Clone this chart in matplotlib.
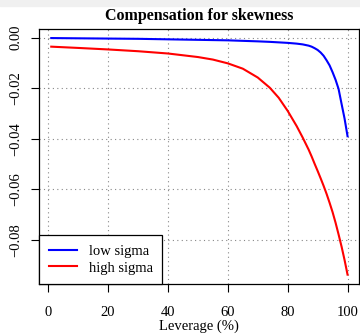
import matplotlib
matplotlib.use("Agg")
import matplotlib.pyplot as plt
from matplotlib.patches import Rectangle

# values
leverage = [1, 10, 20, 30, 40, 50, 55, 60, 65, 70, 74, 77, 80, 83, 85, 87, 88,
            89, 90, 91, 92, 93, 94, 95, 96, 97, 98, 99, 100]
low_sigma = [-0.0002, -0.0003, -0.0004, -0.0005, -0.0007, -0.0009, -0.0010,
             -0.0011, -0.0013, -0.0015, -0.0017, -0.0019, -0.0021, -0.0024,
             -0.0027, -0.0032, -0.0036, -0.0042, -0.0049, -0.0059, -0.0072,
             -0.0090, -0.0110, -0.0137, -0.0167, -0.0203, -0.0262, -0.0320,
             -0.0390]
high_sigma = [-0.0036, -0.0041, -0.0047, -0.0054, -0.0063, -0.0077, -0.0087,
              -0.0102, -0.0123, -0.0158, -0.0198, -0.0238, -0.0290, -0.0350,
              -0.0395, -0.0443, -0.0470, -0.0499, -0.0527, -0.0556, -0.0586,
              -0.0618, -0.0653, -0.0690, -0.0732, -0.0778, -0.0826, -0.0879,
              -0.0937]
x_ticks = [0, 20, 40, 60, 80, 100]
y_ticks = [0.00, -0.02, -0.04, -0.06, -0.08]
y_labels = ["0.00", "\u22120.02", "\u22120.04", "\u22120.06", "\u22120.08"]

plt.rcParams['font.family'] = ['Liberation Serif', 'DejaVu Serif']

fig = plt.figure(figsize=(3.6, 3.34), dpi=100)
# light strip at the very top of the screenshot
fig.patches.append(Rectangle((0, 1 - 6 / 334), 1, 6 / 334, transform=fig.transFigure,
                             color='#f0f0f0', zorder=0))
ax = fig.add_axes([39.4 / 360, 1 - 284 / 334, 320 / 360, 255.3 / 334])

ax.plot(leverage, low_sigma, color='blue', lw=1.5, label='low sigma')
ax.plot(leverage, high_sigma, color='red', lw=1.5, label='high sigma')

ax.set_xlim(-2.96, 103.96)
ax.set_ylim(-0.0974, 0.0035)
ax.set_xticks(x_ticks)
ax.set_yticks(y_ticks)
ax.set_yticklabels(y_labels)

ax.tick_params(axis='both', direction='out', length=5.5, width=0.8, labelsize=10.5)
ax.tick_params(axis='x', pad=10.5)
ax.tick_params(axis='y', pad=6.5, labelrotation=90)
for lab in ax.get_yticklabels():
    lab.set_va('center')

ax.grid(True, color='#888888', linestyle=(0, (1, 3)), lw=0.8)
for s in ax.spines.values():
    s.set_linewidth(0.9)

ax.set_title("Compensation for skewness", fontsize=11.5, fontweight='bold', pad=6)
ax.set_xlabel("Leverage (%)", fontsize=10.5, labelpad=0.5)

leg = ax.legend(loc='lower left', bbox_to_anchor=(0, 0), borderaxespad=0,
                fancybox=False, edgecolor='black', framealpha=1, fontsize=10.5,
                handlelength=1.9, handletextpad=0.85, borderpad=0.65,
                labelspacing=0.25)
leg.get_frame().set_linewidth(0.9)

fig.savefig("out.png", dpi=100)
